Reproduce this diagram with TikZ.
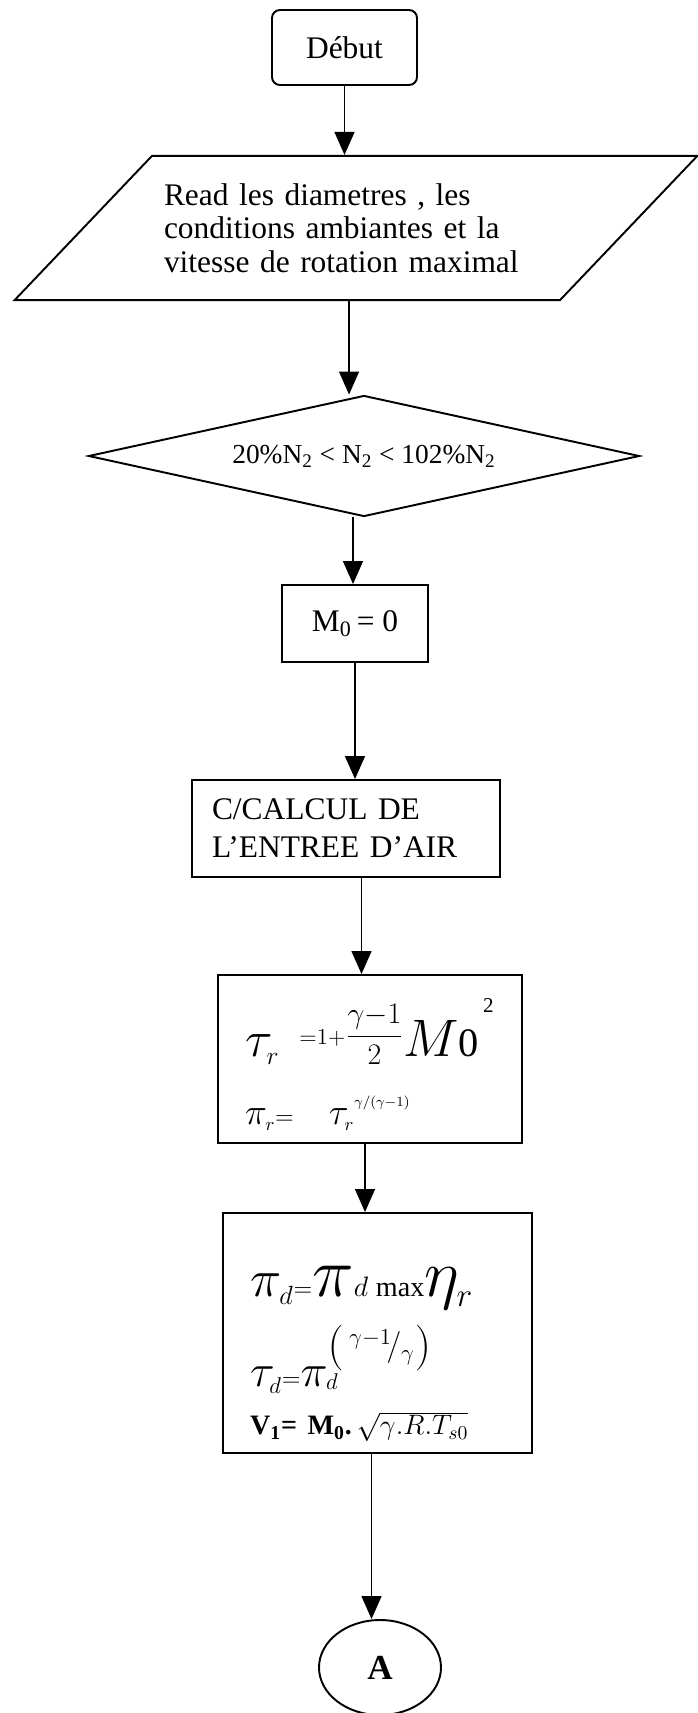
\RequirePackage{fix-cm}
\documentclass[tikz,border=0pt]{standalone}
\usepackage{fontspec}
\setmainfont{Liberation Serif}
\usetikzlibrary{arrows.meta, positioning, shapes.geometric}

\begin{document}
\begin{tikzpicture}[
    term/.style={rectangle, rounded corners=0.16cm, draw=black, line width=1.1pt, minimum width=2.9cm, minimum height=1.5cm, font={\fontsize{17.9}{19.1}\selectfont}},
    io/.style={trapezium, trapezium left angle=46.4, trapezium right angle=133.6, trapezium stretches body=true, draw=black, line width=1.1pt, inner xsep=0.24cm, inner ysep=0.55cm, minimum width=13.4cm, minimum height=2.6cm, text width=7.68cm, align=left, font={\fontsize{17.9}{19.1}\selectfont}},
    test/.style={diamond, aspect=4.55, inner sep=0pt, draw=black, line width=1.1pt, minimum width=11.02cm, minimum height=2.42cm, font={\fontsize{15.6}{17}\selectfont}},
    stepbox/.style={rectangle, draw=black, line width=1.1pt, inner sep=0pt, font={\fontsize{17.9}{19.1}\selectfont}},
    calcbox/.style={stepbox, inner xsep=0.54cm, align=left},
    conn/.style={ellipse, draw=black, line width=1.1pt, minimum width=2.44cm, minimum height=1.9cm, font={\fontsize{20}{22}\selectfont\bfseries}},
    arr/.style={-{Triangle[length=0.46cm, width=0.4cm]}, line width=0.8pt}
]
    \useasboundingbox (0,0) rectangle (13.94,-34.26);

    \node[term] (debut) at (6.89,-0.95) {Début};
    \node[io] (para) at (7.12,-4.56) {Read les diametres , les\\conditions ambiantes et la\\vitesse de rotation maximal};
    \node[test] (dec) at (7.28,-9.12) {20\%N\textsubscript{2} < N\textsubscript{2} < 102\%N\textsubscript{2}};
    \node[stepbox, minimum width=2.92cm, minimum height=1.54cm] (m0) at (7.1,-12.47) {M\textsubscript{0}\,= 0};
    \node[stepbox, minimum width=6.16cm, minimum height=1.94cm, inner xsep=0.4cm, text width=5.36cm, align=left, font={\fontsize{17.9}{21.6}\selectfont}] (calc) at (6.92,-16.57) {C/CALCUL DE\\L’ENTREE D’AIR};

    % entree d'air : tau_r, pi_r
    \node[calcbox, minimum width=6.08cm, minimum height=3.36cm, text width=5.0cm, font={\fontsize{18}{38.7}\selectfont}] (tau) at (7.4,-21.18)
        {\mbox{\rule{0pt}{39pt}{\fontsize{29}{30}\selectfont$\tau_{\scriptscriptstyle r}$}\hspace{0.4cm}\raisebox{7pt}{{\fontsize{13}{14}\selectfont${=}1{+}$}{\fontsize{17}{18}\selectfont$\displaystyle\frac{\gamma{-}1}{2}$}}{\fontsize{30}{32}\selectfont$M$}{\fontsize{23}{26}\selectfont 0}\hspace{0.08cm}\raisebox{25pt}{\fontsize{12}{12}\selectfont 2}}\\
         {\fontsize{21}{22}\selectfont$\pi_{\scriptscriptstyle r}$}{\fontsize{14}{15}\selectfont${=}$}\hspace{0.7cm}{\fontsize{21}{22}\selectfont$\tau_{\scriptscriptstyle r}$}\raisebox{10pt}{\fontsize{8}{8}\selectfont$\gamma/(\gamma{-}1)$}};
    % diffuseur : pi_d, tau_d, V1
    \node[calcbox, minimum width=6.18cm, minimum height=4.8cm, text width=5.1cm, font={\fontsize{18}{29.6}\selectfont}] (pi) at (7.55,-26.66)
        {\mbox{\rule{0pt}{40.6pt}{\fontsize{30}{32}\selectfont$\pi_{\scriptscriptstyle d}$}{\fontsize{14}{15}\selectfont${=}$}{\fontsize{40}{42}\selectfont$\pi$}{\fontsize{16}{17}\selectfont$d\;\mathrm{max}$}{\fontsize{38}{40}\selectfont$\eta_{\scriptscriptstyle r}$}}\\[8pt]
         {\fontsize{26}{28}\selectfont$\tau_{\scriptscriptstyle d}$}{\fontsize{14}{15}\selectfont${=}$}{\fontsize{26}{28}\selectfont$\pi_{\scriptscriptstyle d}^{\left(\,{}^{\gamma-1}\!/{}_{\gamma}\right)}$}\\[-2pt]
         {\fontsize{16}{18}\selectfont\textbf{V\textsubscript{1}= M\textsubscript{0}.}\,$\sqrt{\gamma.R.T_{s0}}$}};
    \node[conn] (A) at (7.6,-33.35) {A};

    \draw[arr] (debut.south) -- (debut.south |- para.north);
    \draw[arr] ([xshift=-0.14cm]para.south) -- ([xshift=-0.14cm]para.south |- dec.north);
    \draw[arr] ([xshift=-0.22cm]dec.south) -- ([xshift=-0.22cm]dec.south |- m0.north);
    \draw[arr] (m0.south) -- (m0.south |- calc.north);
    \draw[arr] ([xshift=0.31cm]calc.south) -- ([xshift=0.31cm]calc.south |- tau.north);
    \draw[arr] ([xshift=-0.1cm]tau.south) -- ([xshift=-0.1cm]tau.south |- pi.north);
    \draw[arr] ([xshift=-0.12cm]pi.south) -- ([xshift=-0.12cm]pi.south |- A.north);
\end{tikzpicture}
\end{document}
